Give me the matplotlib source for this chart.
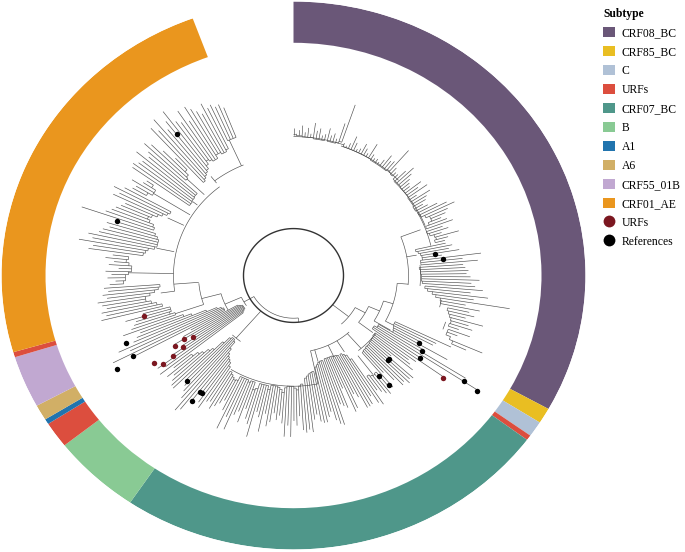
#!/usr/bin/env python3
"""Circular phylogeny with a subtype ring."""
import numpy as np
import matplotlib
matplotlib.use("Agg")
import matplotlib.pyplot as plt
from matplotlib.collections import LineCollection
from matplotlib.lines import Line2D
from matplotlib.patches import Patch

plt.rcParams["font.family"] = ["Liberation Serif", "DejaVu Serif"]

# ── Subtype ring (number of leaves in each stretch, clockwise from the top) ──
ring_labels = ["CRF08_BC", "CRF85_BC", "C", "URFs", "CRF07_BC", "B", "URFs", "A1",
               "A6", "CRF55_01B", "URFs", "CRF01_AE"]
ring_counts = [108, 3, 3, 1, 79, 16, 5, 1, 3, 10, 1, 78]

legend_labels = ["CRF08_BC", "CRF85_BC", "C", "URFs", "CRF07_BC", "B", "A1", "A6",
                 "CRF55_01B", "CRF01_AE"]
legend_colors = ["#6A5778", "#E9BE22", "#B0C1D6", "#DC4E3E", "#4F978A", "#89CA94",
                 "#2174AE", "#D1AF66", "#C1A8D1", "#EA961E"]

# ── Leaves, clockwise: (tip radius, radius of the node they hang from) ──
# radii are in pixels along the horizontal axis of the picture
u1_tip = [157, 151, 155, 160, 153, 158, 152, 164, 156, 159, 152, 154]
u1_node = [150, 150, 149, 149, 148, 148, 148, 148, 147, 147, 147, 147]
u2_tip = [161, 154, 157, 152, 170, 192]
u2_node = [147, 147, 147, 148, 150, 152]
u3_tip = [150, 148, 152, 161, 155, 149, 151, 158, 154, 150, 163, 152, 149, 150, 148, 153,
          161, 156, 158, 176, 154, 150]
u3_node = [146, 146, 146, 146, 146, 146, 146, 146, 146, 146, 146, 146, 145, 145, 145, 145,
           145, 145, 147, 152, 146, 145]
u4_tip = [150, 158, 166, 160, 155, 152, 150, 162, 156, 165, 150, 164, 158, 155, 150, 154]
u4_node = [143, 143, 144, 143, 143, 142, 142, 142, 142, 142, 141, 141, 141, 141, 140, 140]
u5_tip = [163, 172, 179, 170, 166, 160, 165, 170]
u5_node = [141, 142, 146, 150, 152, 150, 146, 142]
u6_tip = [158, 163, 155, 172, 160, 156]
u6_node = [141, 143, 147, 149, 148, 146]
d1_tip = [156, 162, 158, 168, 150, 189, 170, 185]
d1_node = [125, 127, 129, 130, 131, 130, 128, 128]
d2_tip = [170, 172, 175, 173, 177, 186, 178, 182]
d2_node = [126, 127, 127, 128, 128, 128, 129, 130]
d3_tip = [190, 178, 196, 182, 219, 175, 190]
d3_node = [132, 135, 140, 144, 149, 150, 155]
d4_tip = [180, 186, 178, 197, 183, 188, 175]
d4_node = [158, 160, 162, 164, 165, 165, 164]
d5_tip = [188, 176, 170, 206, 190]
d5_node = [166, 165, 170, 174, 174]
e1_tip = [175, 160, 158, 145, 178, 152, 204, 221, 154, 185]
e1_node = [113, 113, 114, 115, 116, 118, 100, 100, 97, 97]
f1_tip = [153, 146, 150, 156, 130, 162, 160, 163, 158, 160, 150, 137, 155]
f1_node = [102, 102, 103, 103, 104, 104, 105, 105, 105, 106, 106, 107, 107]
f2_tip = [150, 159, 156, 152, 148]
f2_node = [132, 133, 134, 132, 130]
f3_tip = [164, 160, 150, 158, 159]
f3_node = [106, 106, 100, 98, 96]
f4_tip = [159, 145, 140, 155, 158, 130, 151, 148, 145]
f4_node = [96, 96, 95, 95, 94, 94, 94, 94, 94]
f5_tip = [167, 165, 160, 150, 155, 160]
f5_node = [95, 95, 96, 98, 100, 102]
f6_tip = [160, 158, 150, 155, 168, 165]
f6_node = [104, 105, 106, 108, 110, 111]
f7_tip = [168, 165, 150, 160, 155, 172, 160, 172, 158, 150, 155, 148, 158, 163, 150, 170, 155,
          150, 178, 165, 160, 150, 166, 155, 160, 178, 165, 180, 160, 150, 155, 160, 165, 158]
f7_node = [116, 118, 125, 122, 120, 118, 118, 120, 125, 128, 122, 120, 119, 119, 128, 124, 120,
           125, 120, 126, 132, 128, 120, 122, 124, 120, 122, 120, 125, 130, 126, 124, 122, 120]
g_tip = [160, 170, 165, 155, 168, 182, 186, 172, 165, 160, 155, 170, 169, 165, 160, 166, 155]
g_node = [118, 116, 112, 110, 108, 105, 100, 92, 90, 92, 100, 112, 116, 122, 126, 132, 138]
h_tip = [170, 161, 168, 148, 134, 120, 140, 128, 118]
h_node = [66, 64, 62, 60, 60, 60, 62, 64, 68]
k_tip = [181, 203, 182, 193, 175, 170, 165, 182]
k_node = [78, 78, 80, 84, 95, 110, 118, 120]
c_tip = [172, 168, 165, 175, 156]
c_node = [125, 130, 134, 128, 128]
j1_tip = [198, 192, 196, 190, 194, 198, 188, 192, 186, 190]
j1_node = [135, 140, 145, 150, 155, 150, 145, 140, 136, 134]
j2_tip = [184, 178, 186, 182, 188, 175, 185, 180, 189, 182]
j2_node = [172, 170, 168, 168, 165, 162, 165, 170, 168, 166]
j3_tip = [207, 203, 218, 205, 210, 200, 197, 191, 195, 186]
j3_node = [155, 152, 150, 148, 142, 140, 140, 142, 145, 146]
j4_tip = [224, 200, 195, 192, 188, 185, 200, 195, 203, 193]
j4_node = [148, 150, 155, 158, 160, 155, 150, 146, 142, 140]
j5_tip = [186, 184, 191, 180, 178]
j5_node = [170, 172, 165, 170, 172]
j6_tip = [198, 200, 196, 194, 205, 192, 196]
j6_node = [128, 128, 129, 129, 130, 130, 131]
j7_tip = [205, 199, 186, 172]
j7_node = [148, 150, 155, 158]
j8_tip = [212, 205, 217, 200, 208, 218, 202, 198, 210, 195, 210, 205, 200, 195, 205, 198]
j8_node = [134, 136, 138, 140, 142, 146, 150, 150, 148, 146, 150, 154, 150, 148, 150, 152]
j9_tip = [200, 196, 197, 192]
j9_node = [158, 158, 158, 158]

clades = [(u1_tip, u1_node), (u2_tip, u2_node), (u3_tip, u3_node), (u4_tip, u4_node),
          (u5_tip, u5_node), (u6_tip, u6_node), (d1_tip, d1_node), (d2_tip, d2_node),
          (d3_tip, d3_node), (d4_tip, d4_node), (d5_tip, d5_node), (e1_tip, e1_node),
          (f1_tip, f1_node), (f2_tip, f2_node), (f3_tip, f3_node), (f4_tip, f4_node),
          (f5_tip, f5_node), (f6_tip, f6_node), (f7_tip, f7_node), (g_tip, g_node),
          (h_tip, h_node), (k_tip, k_node), (c_tip, c_node), (j1_tip, j1_node),
          (j2_tip, j2_node), (j3_tip, j3_node), (j4_tip, j4_node), (j5_tip, j5_node),
          (j6_tip, j6_node), (j7_tip, j7_node), (j8_tip, j8_node), (j9_tip, j9_node)]

# inner branches that join the clades: arcs (from, to, radius) and stems (angle, r0, r1)
arc_from = [0, 19, 45, 60, 119, 113.7, 106.8, 94.6, 85, 100, 108, 137.3, 127, 168, 217, 174, 235.6,
            240.5, 251, 262, 322, 69]
arc_to = [20, 46, 68, 77, 137.3, 127.5, 121, 117.9, 95, 103, 111, 168, 141, 212, 224, 240.4, 246,
          255, 265, 322, 337, 95]
arc_r = [148, 146, 142, 141, 70.5, 82, 94, 104, 127, 150, 160, 82, 103, 118, 88, 45.5, 57,
         75, 95, 120, 128, 115]
stem_theta = [128.5, 119, 127.5, 113.7, 121, 106.8, 117.9, 94.6, 69, 80, 139, 143, 148, 155, 165,
              168, 220.7, 174, 240.4, 246, 255, 251, 265.6, 262, 271, 282, 296, 302, 308, 314, 322, 336]
stem_r0 = [50, 70.5, 82, 82, 94, 94, 104, 104, 115, 115, 82, 107, 82, 82, 82,
           82, 50, 45.5, 45.5, 57, 75, 95, 95, 120, 120, 122, 122, 122, 122, 124, 125, 128]
stem_r1 = [70.5, 82, 100, 94, 113, 104, 113, 115, 136, 125, 103, 132, 96, 96, 95,
           118, 88, 50, 57, 75, 95, 125, 120, 134, 165, 140, 140, 165, 128, 148, 134, 158]

# ── Tip markers (angle in degrees clockwise from the top, radius) ──
ref_theta = [80.8, 83.3, 119.8, 122, 124.8, 123.3, 124, 133, 133.6, 141.4, 140.7, 216.2, 217,
             223.3, 217.2, 240.6, 242, 246.8, 288.2, 322.3]
ref_r = [143, 150.5, 145, 152, 154, 204, 221, 130.5, 130.5, 137, 150.6, 155, 155,
         155, 167.7, 202.6, 182, 182, 185.8, 190.3]
urf_theta = [126, 234.2, 236.3, 234.5, 237.7, 235.5, 238.3, 237, 254]
urf_r = [185, 161, 167.7, 148, 140, 134, 128.6, 120, 155.6]

LEAF_STEP = 339.8 / sum(ring_counts)
ring_color = dict(zip(legend_labels, legend_colors))


def arc(t0, t1, r):
    t = np.radians(np.linspace(t0, t1, max(2, int(abs(t1 - t0)) + 2)))
    return np.column_stack([t, np.full_like(t, r)])


def stem(t, r0, r1):
    return np.array([[np.radians(t), r0], [np.radians(t), r1]])


fig = plt.figure(figsize=(6.85, 5.52), dpi=100)
W, H = 685.0, 552.0
ax = fig.add_axes([1.5 / W, 1 - 549.5 / H, 584 / W, 548 / H], projection="polar")
ax.set_aspect("auto")
ax.set_theta_zero_location("N")
ax.set_theta_direction(-1)
ax.set_rlim(0, 292)
ax.axis("off")

# ring
edges = np.cumsum([0] + ring_counts) * LEAF_STEP
for lab, a, b in zip(ring_labels, edges[:-1], edges[1:]):
    ax.bar(np.radians((a + b) / 2), 44, width=np.radians(b - a), bottom=248,
           color=ring_color[lab], linewidth=0)

# tree
segs = []
start = 0
for tips, nodes in clades:
    n = len(tips)
    th = (start + np.arange(n)) * LEAF_STEP
    for i in range(n):
        low = nodes[i]
        if i > 0:
            low = min(low, nodes[i - 1])
        if i < n - 1:
            low = min(low, nodes[i + 1])
            segs.append(arc(th[i], th[i + 1], min(nodes[i], nodes[i + 1])))
        segs.append(stem(th[i], low, tips[i]))
    start += n

for a, b, r in zip(arc_from, arc_to, arc_r):
    segs.append(arc(a, b, r))
for t, r0, r1 in zip(stem_theta, stem_r0, stem_r1):
    segs.append(stem(t, r0, r1))
ax.add_collection(LineCollection(segs, colors="#4d4d4d", linewidths=0.45))

# root circle
ax.add_collection(LineCollection([arc(0, 360, 50)], colors="#333333", linewidths=1.0))

ax.plot(np.radians(ref_theta), ref_r, "o", color="black", ms=3.9, mew=0, zorder=5)
ax.plot(np.radians(urf_theta), urf_r, "o", color="#7B1720", ms=3.9, mew=0, zorder=5)

# legend
handles = [Patch(facecolor=c, edgecolor="none", label=l) for l, c in zip(legend_labels, legend_colors)]
handles.append(Line2D([], [], marker="o", ls="", color="#7B1720", ms=8.5, mew=0, label="URFs"))
handles.append(Line2D([], [], marker="o", ls="", color="black", ms=8.5, mew=0, label="References"))
leg = fig.legend(handles=handles, title="Subtype", loc="upper left", bbox_to_anchor=(595 / W, 1 - 0.0 / H),
                 frameon=False, fontsize=8.4, handlelength=1.0, handleheight=1.0, handletextpad=0.6,
                 labelspacing=0.58, borderaxespad=0.3, alignment="left",
                 title_fontproperties={"weight": "bold", "size": 8.4, "family": "Liberation Serif"})

fig.savefig("out.png", dpi=100)
plt.close(fig)
